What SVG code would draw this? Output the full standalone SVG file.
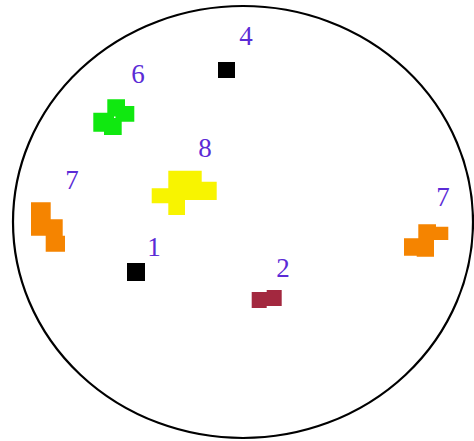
<svg xmlns="http://www.w3.org/2000/svg" width="474" height="441" viewBox="0 0 474 441">
<style>
.lbl{font-family:"Liberation Serif","DejaVu Serif",serif;font-size:27px;fill:#5b2bd6;text-anchor:middle}
.blk{fill:#000}
.org{fill:#f58400}
</style>
<rect width="474" height="441" fill="#fff"/>
<g id="boundary">
<ellipse cx="243" cy="222" rx="230" ry="216" fill="none" stroke="#000" stroke-width="2.2"/>
</g>
<g id="node-4">
<rect class="blk" x="218" y="62" width="17" height="16"/>
<text class="lbl" x="246" y="45">4</text>
</g>
<g id="node-6">
<polygon fill="#10e810" points="107.3,99.3 125,99.3 125,106 134.3,106 134.3,121.7 121.7,121.7 121.7,135 104,135 104,131.7 93.3,131.7 93.3,112.7 107.3,112.7"/>
<rect x="114" y="116.5" width="1.5" height="1.5" fill="#fff"/>
<text class="lbl" x="138" y="83">6</text>
</g>
<g id="node-8">
<polygon fill="#f8f400" points="168.3,170.7 201.7,170.7 201.7,181.7 216.7,181.7 216.7,200 185,200 185,215 168.3,215 168.3,203.3 151.7,203.3 151.7,188.3 168.3,188.3"/>
<text class="lbl" x="205" y="157">8</text>
</g>
<g id="node-7-left">
<polygon class="org" points="31,202.3 50.7,202.3 50.7,219.3 62.7,219.3 62.7,235.7 65,235.7 65,251.7 45.7,251.7 45.7,235.7 31,235.7"/>
<text class="lbl" x="72" y="189">7</text>
</g>
<g id="node-1">
<rect class="blk" x="127" y="263" width="18" height="18"/>
<text class="lbl" x="154" y="256">1</text>
</g>
<g id="node-2">
<polygon fill="#a3283f" points="251.7,292 266.7,292 266.7,290 281.7,290 281.7,306 266.7,306 266.7,308 251.7,308"/>
<text class="lbl" x="283" y="277">2</text>
</g>
<g id="node-7-right">
<polygon class="org" points="418.3,224.3 436,224.3 436,226.7 448.3,226.7 448.3,240 434,240 434,256.7 416.7,256.7 416.7,255.7 404,255.7 404,238.3 418.3,238.3"/>
<text class="lbl" x="443" y="206">7</text>
</g>
<g id="connectors"/>
</svg>
